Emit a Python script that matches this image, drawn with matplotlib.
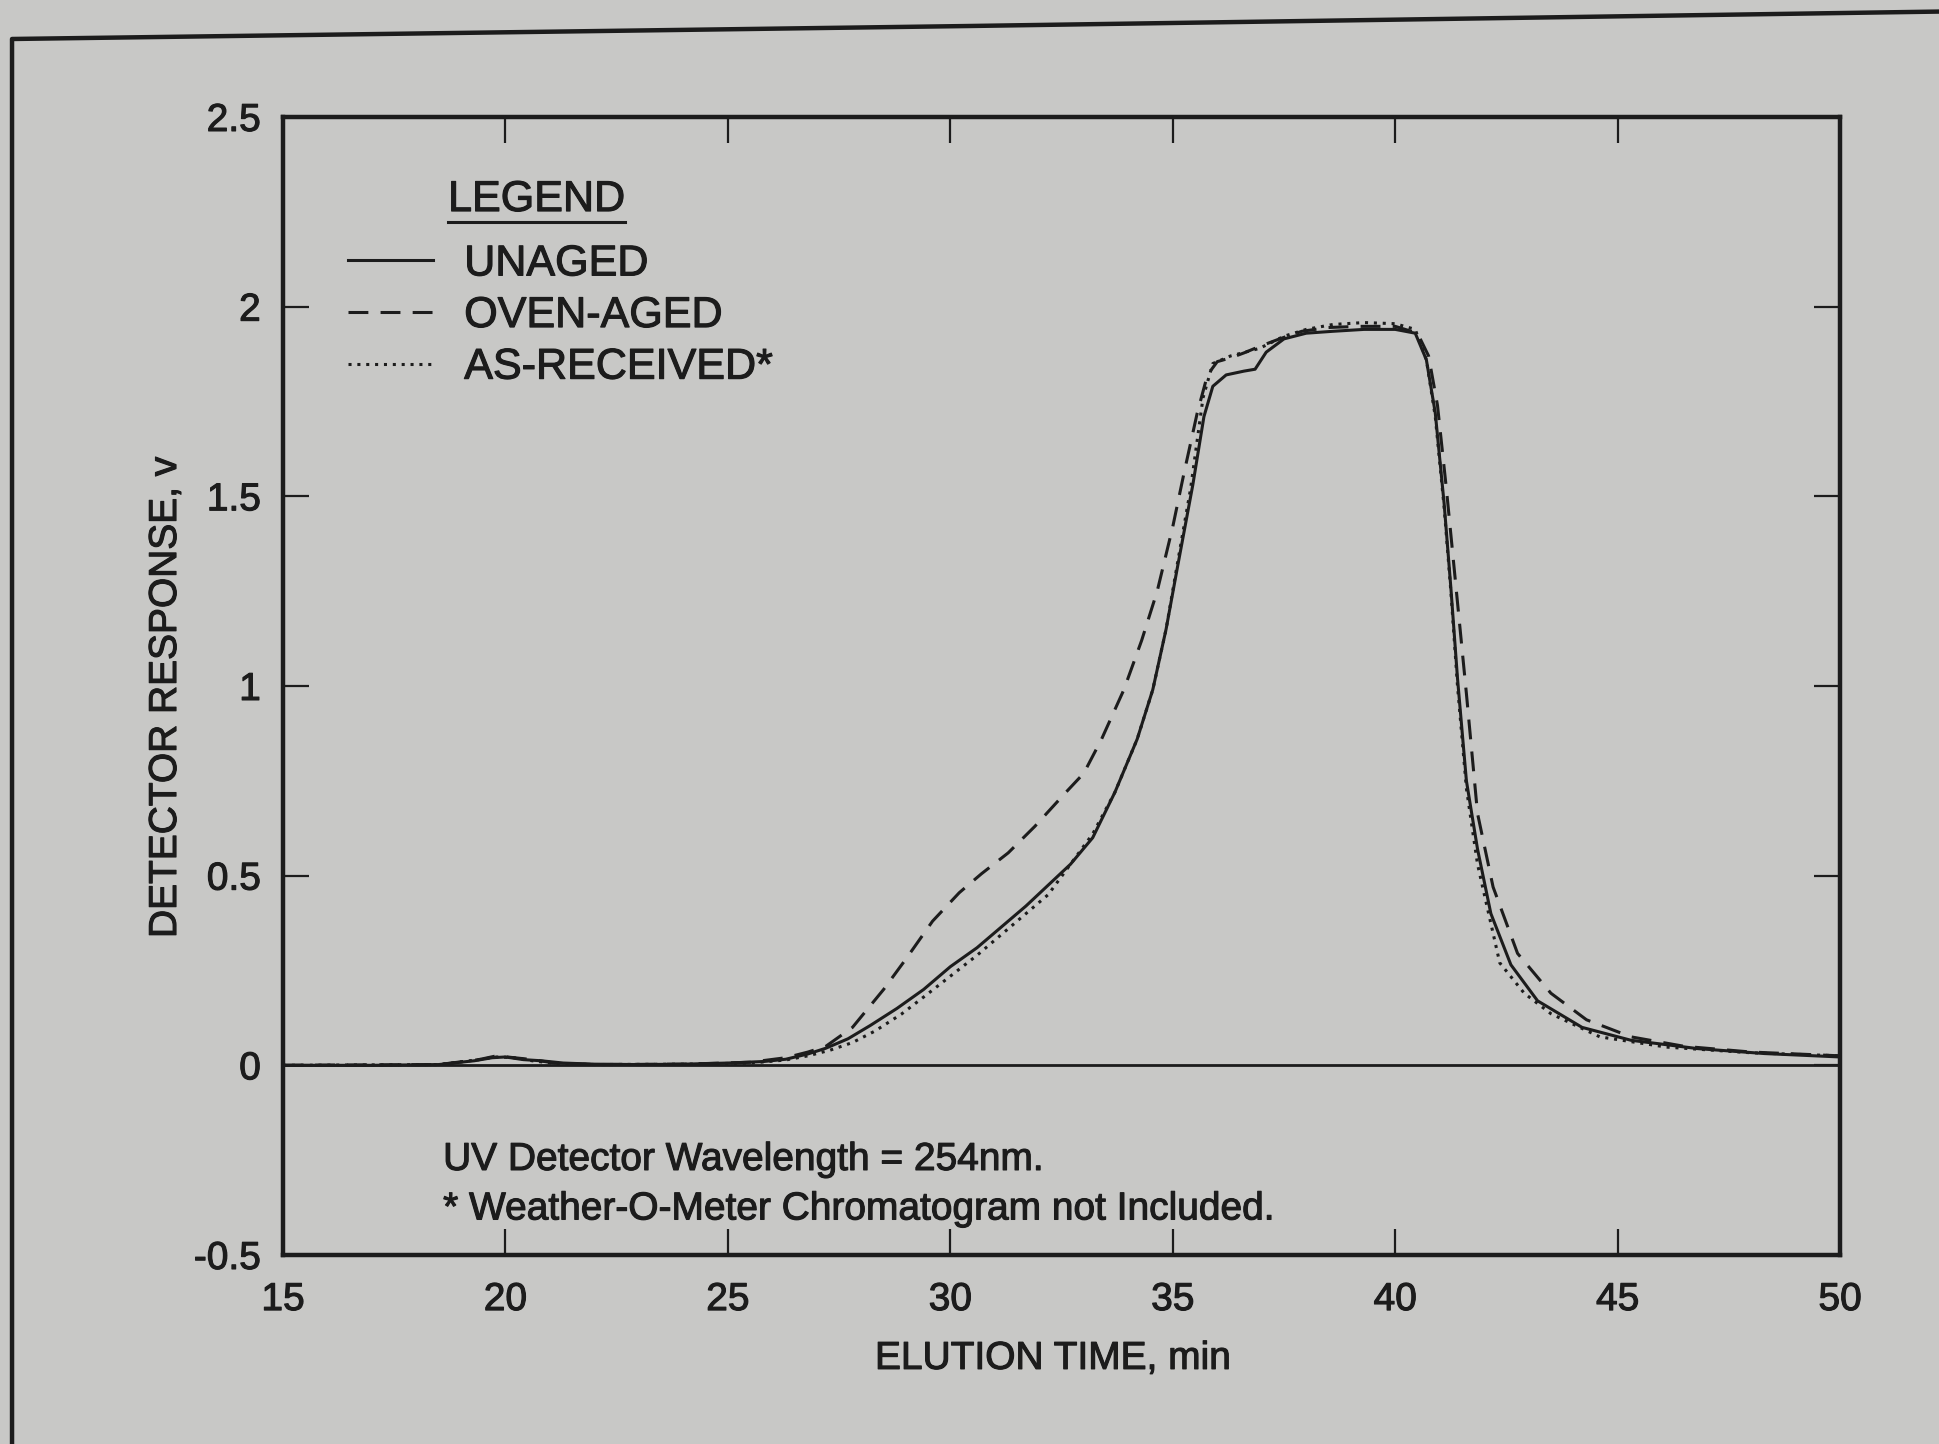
import matplotlib
matplotlib.use("Agg")
import matplotlib.pyplot as plt
from matplotlib.lines import Line2D
from matplotlib.text import Text
import matplotlib.patheffects as pe

plt.rcParams['font.family'] = ['Liberation Sans', 'DejaVu Sans']

# ---------------- data ----------------
unaged_t = [15, 17, 18.5, 19.3, 19.7, 20.0, 20.4, 20.8, 21.3, 22, 23, 24, 25, 25.8, 26.3,
            26.8, 27.2, 27.7, 28.2, 28.8, 29.4, 30.0, 30.6, 31.1, 31.7, 32.2, 32.7, 33.2,
            33.7, 34.2, 34.55, 34.85, 35.1, 35.45, 35.7, 35.9, 36.2, 36.6, 36.85, 37.1,
            37.5, 38.0, 38.6, 39.3, 40.0, 40.45, 40.7, 40.9, 41.1, 41.25, 41.4, 41.6,
            41.85, 42.15, 42.6, 43.2, 44.2, 45.3, 46.8, 48.3, 50.0]
unaged_v = [0, 0, 0.002, 0.012, 0.02, 0.022, 0.015, 0.012, 0.006, 0.003, 0.002, 0.003, 0.006,
            0.01, 0.016, 0.03, 0.045, 0.07, 0.105, 0.15, 0.2, 0.26, 0.31, 0.36, 0.42, 0.475,
            0.53, 0.6, 0.72, 0.86, 0.99, 1.15, 1.31, 1.53, 1.71, 1.79, 1.82, 1.83, 1.835,
            1.88, 1.915, 1.93, 1.935, 1.94, 1.94, 1.93, 1.86, 1.72, 1.48, 1.26, 1.02, 0.75,
            0.57, 0.40, 0.265, 0.17, 0.10, 0.066, 0.044, 0.031, 0.022]

oven_t = [15, 18.5, 19.4, 19.8, 20.2, 20.6, 21.1, 22, 24, 25.5, 26.3, 26.8, 27.2, 27.8, 28.5,
          29.0, 29.6, 30.2, 30.7, 31.3, 31.9, 32.6, 33.0, 33.4, 33.9, 34.3, 34.65, 35.0,
          35.25, 35.55, 35.78, 36.0, 36.3, 36.6, 36.95, 37.4, 37.9, 38.5, 39.2, 40.0, 40.5,
          40.75, 40.95, 41.15, 41.35, 41.6, 41.85, 42.2, 42.75, 43.5, 44.3, 45.3, 46.5, 48, 50]
oven_v = [0, 0.002, 0.015, 0.025, 0.02, 0.015, 0.006, 0.002, 0.003, 0.008, 0.02, 0.035, 0.05,
          0.1, 0.2, 0.28, 0.38, 0.455, 0.505, 0.56, 0.63, 0.72, 0.77, 0.86, 0.99, 1.12, 1.25,
          1.42, 1.56, 1.72, 1.82, 1.855, 1.865, 1.878, 1.895, 1.915, 1.935, 1.945, 1.948,
          1.948, 1.93, 1.87, 1.74, 1.52, 1.28, 0.98, 0.664, 0.47, 0.295, 0.19, 0.12, 0.075,
          0.05, 0.035, 0.025]

asrec_t = [15, 18.5, 19.4, 19.8, 20.2, 20.6, 21.1, 22, 24, 25.5, 26.3, 26.8, 27.3, 27.8, 28.3,
           28.9, 29.4, 30.0, 30.6, 31.1, 31.7, 32.2, 32.7, 33.2, 33.7, 34.2, 34.55, 34.85,
           35.1, 35.4, 35.68, 35.9, 36.3, 36.95, 37.5, 38.0, 38.6, 39.3, 40.0, 40.45, 40.7,
           40.9, 41.1, 41.25, 41.4, 41.6, 41.85, 42.35, 42.9, 43.5, 44.6, 46.1, 48, 50]
asrec_v = [0, 0.002, 0.015, 0.022, 0.02, 0.012, 0.005, 0.002, 0.003, 0.006, 0.014, 0.025, 0.04,
           0.06, 0.09, 0.135, 0.18, 0.235, 0.29, 0.34, 0.4, 0.45, 0.53, 0.61, 0.72, 0.86, 0.99,
           1.15, 1.32, 1.52, 1.76, 1.85, 1.87, 1.89, 1.922, 1.94, 1.953, 1.958, 1.955, 1.94,
           1.86, 1.71, 1.47, 1.25, 1.0, 0.73, 0.53, 0.27, 0.19, 0.136, 0.075, 0.048, 0.033, 0.025]

series_labels = ["UNAGED", "OVEN-AGED", "AS-RECEIVED*"]
x_ticks = [15, 20, 25, 30, 35, 40, 45, 50]
x_tick_labels = ["15", "20", "25", "30", "35", "40", "45", "50"]
y_ticks = [-0.5, 0, 0.5, 1, 1.5, 2, 2.5]
y_tick_labels = ["-0.5", "0", "0.5", "1", "1.5", "2", "2.5"]

# ---------------- figure ----------------
BG = "#c8c8c6"
INK = "#1c1c1c"
fig = plt.figure(figsize=(19.4, 14.44), dpi=100, facecolor=BG)
ax = fig.add_axes([0.1459, 0.1309, 0.8026, 0.7881], facecolor=BG)

lw = 2.2
ax.axhline(0, color=INK, lw=2.0, zorder=1)
l1, = ax.plot(unaged_t, unaged_v, color=INK, lw=lw, solid_joinstyle='round')
l2, = ax.plot(oven_t, oven_v, color=INK, lw=lw, linestyle=(0, (6.5, 4)))
l3, = ax.plot(asrec_t, asrec_v, color=INK, lw=lw, linestyle=(0, (1, 1.9)))

ax.set_xlim(15, 50)
ax.set_ylim(-0.5, 2.5)
ax.set_xticks(x_ticks)
ax.set_xticklabels(x_tick_labels)
ax.set_yticks(y_ticks)
ax.set_yticklabels(y_tick_labels)
ax.tick_params(axis='both', direction='in', length=19, width=1.6, color=INK,
               top=True, right=True, labelcolor=INK, labelsize=28)
ax.tick_params(axis='x', pad=19.5)
ax.tick_params(axis='y', pad=16)
for s in ax.spines.values():
    s.set_linewidth(3.2)
    s.set_color(INK)

ax.set_xlabel("ELUTION TIME, min", fontsize=28, color=INK)
ax.set_ylabel("DETECTOR RESPONSE, v", fontsize=28, color=INK)
ax.xaxis.set_label_coords(0.4945, -0.0755)
ax.yaxis.set_label_coords(-0.0636, 0.49)

leg = ax.legend([l1, l2, l3], series_labels, loc='upper left',
                bbox_to_anchor=(0.0417, 0.888), frameon=False, fontsize=31,
                handlelength=1.98, handletextpad=0.72, labelspacing=0.27,
                borderpad=0, borderaxespad=0, labelcolor=INK)

ttl = ax.text(0.106, 0.927, "LEGEND", transform=ax.transAxes, fontsize=31,
              color=INK, va='center', ha='left')

ax.text(0.1028, 0.0835, "UV Detector Wavelength = 254nm.", transform=ax.transAxes,
        fontsize=28, color=INK, va='center', ha='left')
ax.text(0.1028, 0.040, "* Weather-O-Meter Chromatogram not Included.", transform=ax.transAxes,
        fontsize=28, color=INK, va='center', ha='left')

# slightly heavier text, like the printed original
for t in fig.findobj(Text):
    t.set_path_effects([pe.withStroke(linewidth=0.8, foreground=INK)])

# underline for LEGEND
fig.canvas.draw()
bb = ttl.get_window_extent()
fw, fh = fig.bbox.width, fig.bbox.height
uy = (bb.y0 - 2) / fh
fig.add_artist(Line2D([bb.x0 / fw, bb.x1 / fw], [uy, uy], color=INK, lw=2.2))

# outer page frame from the scan
fig.add_artist(Line2D([0.0062, 0.0062, 0.5, 1.0], [0.0, 0.973, 0.982, 0.992],
                      color=INK, lw=3.2))

fig.savefig("out.png", dpi=100, facecolor=BG)
